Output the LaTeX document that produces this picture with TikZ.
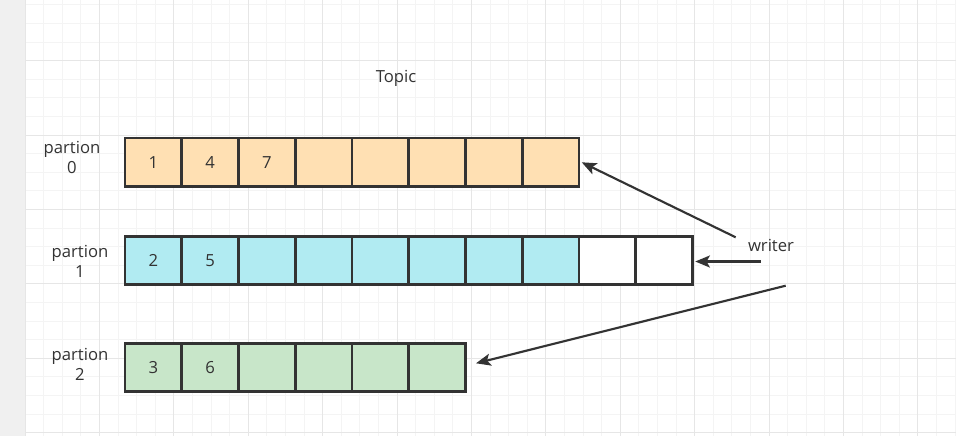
\documentclass[tikz,border=0pt]{standalone}
\usepackage{fontspec}
\setmainfont{Open Sans}
\usetikzlibrary{arrows.meta}
\definecolor{dark}{HTML}{333333}
\definecolor{stripgray}{HTML}{F0F0F0}
\definecolor{minorg}{HTML}{F4F4F4}
\definecolor{majorg}{HTML}{E6E6E6}
\definecolor{peach}{HTML}{FFE0B3}
\definecolor{cyanf}{HTML}{B1EBF2}
\definecolor{greenf}{HTML}{C8E6C9}
\tikzset{
  cell/.style={draw=dark, line width=2.1pt, minimum width=42.56pt, minimum height=36.4pt, inner sep=0pt, text=dark, font=\fontsize{12.5}{15}\selectfont},
  lbl/.style={text=dark, align=center, font=\fontsize{12.5}{15}\selectfont, inner sep=0pt},
  minorgrid/.style={draw=minorg, line width=0.75pt},
  majorgrid/.style={draw=majorg, line width=0.75pt},
  arr/.style={draw=dark, line width=1.6pt, -{Stealth[length=11pt,width=9pt,inset=2.5pt]}}
}
\begin{document}
\begin{tikzpicture}[x=0.75pt,y=-0.75pt]
\useasboundingbox (0,0) rectangle (956,436);
\fill[white] (0,0) rectangle (956,436);
\fill[stripgray] (0,0) rectangle (25,436);
% grid
\foreach \k in {0,...,50} \draw[minorgrid] ({25+18.6*\k},0) -- ({25+18.6*\k},436);
\foreach \k in {0,...,23} \draw[minorgrid] (25,{4.8+18.6*\k}) -- (956,{4.8+18.6*\k});
\foreach \k in {0,...,12} \draw[majorgrid] ({25+74.4*\k},0) -- ({25+74.4*\k},436);
\foreach \k in {0,...,5} \draw[majorgrid] (25,{60.6+74.4*\k}) -- (956,{60.6+74.4*\k});
% title
\node[lbl] (topic) at (396,78) {Topic};
% partition labels
\node[lbl] (l0) at (72,157) {partion\\0};
\node[lbl] (l1) at (80,261) {partion\\1};
\node[lbl] (l2) at (80,364.5) {partion\\2};
% row 0
\foreach \i/\t in {1/1,2/4,3/7,4/{},5/{},6/{},7/{},8/{}}
  \node[cell, fill=peach] (p0c\i) at ({125+56.75*(\i-0.5)},162.3) {\t};
% row 1
\foreach \i/\t in {1/2,2/5,3/{},4/{},5/{},6/{},7/{},8/{}}
  \node[cell, fill=cyanf] (p1c\i) at ({125+56.75*(\i-0.5)},260.5) {\t};
\foreach \i in {9,10}
  \node[cell, fill=white] (p1c\i) at ({125+56.75*(\i-0.5)},260.5) {};
% row 2
\foreach \i/\t in {1/3,2/6,3/{},4/{},5/{},6/{}}
  \node[cell, fill=greenf] (p2c\i) at ({125+56.75*(\i-0.5)},367.5) {\t};
% writer
\node[lbl] (writer) at (771,245) {writer};
\coordinate (w0) at (735.7,237.3);
\coordinate (w1) at (760.7,261.5);
\coordinate (w2) at (785.7,285.7);
\coordinate (t2) at (476,363.3);
\draw[arr] (w0) -- ([xshift=1pt]p0c8.east);
\draw[arr] (w1) -- ([xshift=1pt]w1 -| p1c10.east);
\draw[arr] (w2) -- (t2);
\end{tikzpicture}
\end{document}
